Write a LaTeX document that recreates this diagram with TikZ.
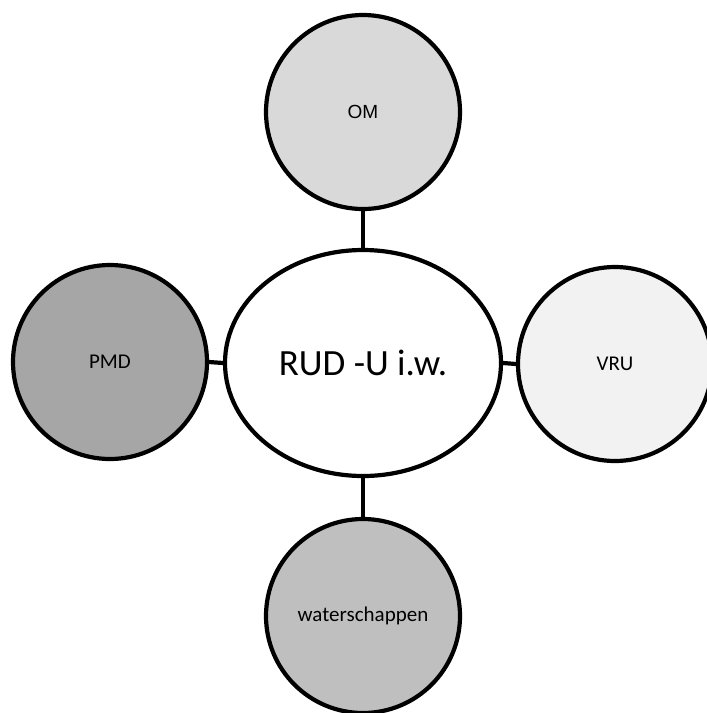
\documentclass[tikz,border=0pt]{standalone}
\usepackage{fontspec}
\setmainfont{Carlito}
\newfontfamily\arialfont{Liberation Sans}
\usetikzlibrary{shapes.geometric}
\definecolor{omfill}{HTML}{D9D9D9}
\definecolor{pmdfill}{HTML}{A6A6A6}
\definecolor{vrufill}{HTML}{F2F2F2}
\definecolor{wsfill}{HTML}{BFBFBF}
\tikzset{
  sat/.style={circle, draw=black, line width=4.2pt, minimum size=194pt, inner sep=0pt, font=\fontsize{21}{25}\selectfont},
  hub/.style={ellipse, draw=black, fill=white, line width=4.2pt, minimum width=276pt, minimum height=226pt, inner sep=0pt, font=\fontsize{37}{44}\selectfont},
  link/.style={draw=black, line width=4.2pt}
}
\begin{document}
\begin{tikzpicture}[x=1pt,y=-1pt]
\useasboundingbox (0,0) rectangle (707,713);
\clip (0,0) rectangle (707,713);
\node[hub] (c) at (363,363) {RUD -U i.w.};
\node[sat, fill=omfill, font=\arialfont\fontsize{19}{23}\selectfont] (om) at (363,112) {OM};
\node[sat, fill=pmdfill] (pmd) at (110,362) {PMD};
\node[sat, fill=vrufill] (vru) at (615,364) {VRU};
\node[sat, fill=wsfill] (ws) at (363,616) {waterschappen};
\draw[link] (om) -- (c);
\draw[link] (pmd.east) -- (c.west);
\draw[link] (vru.west) -- (c.east);
\draw[link] (ws) -- (c);
\end{tikzpicture}
\end{document}
